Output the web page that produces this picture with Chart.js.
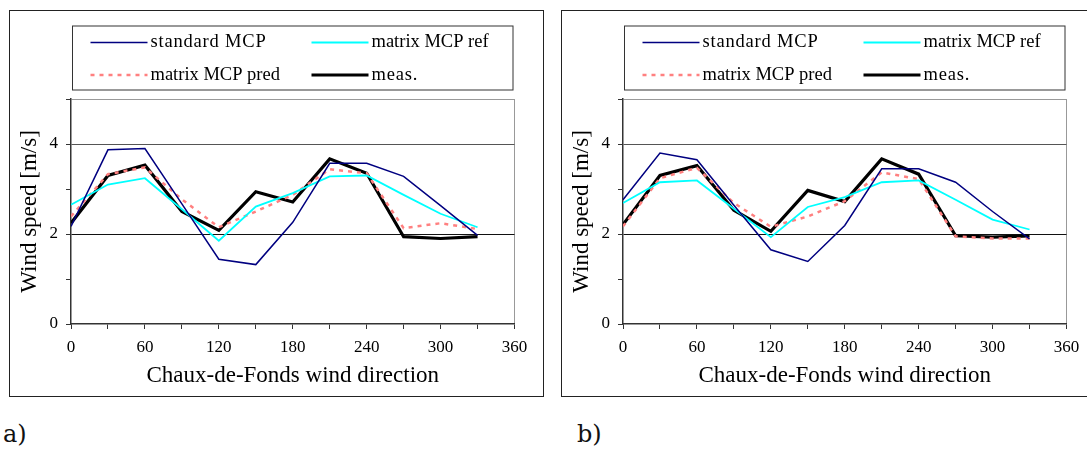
<!DOCTYPE html>
<html>
<head>
<meta charset="utf-8">
<script src="https://cdn.jsdelivr.net/npm/chart.js@4/dist/chart.umd.min.js"></script>
<style>
  html, body { margin: 0; padding: 0; background: #fff; overflow: hidden; }
  body { width: 1087px; height: 454px; position: relative; }
  .panel { position: absolute; top: 10px; width: 533px; height: 385px; border: 1px solid #222; }
  .panel canvas { display: block; }
  .tag { position: absolute; top: 420px; font-family: "DejaVu Serif", serif; font-size: 24px; color: #111; }
</style>
</head>
<body>
<div class="panel" style="left:9px"><canvas id="chartA" width="533" height="385"></canvas></div>
<div class="panel" style="left:561px"><canvas id="chartB" width="533" height="385"></canvas></div>
<div class="tag" style="left:3px">a)</div>
<div class="tag" style="left:577px">b)</div>
<script>
// wind direction sectors (deg)
const directions = [0, 30, 60, 90, 120, 150, 180, 210, 240, 270, 300, 330];
const xTickLabels = [0, 60, 120, 180, 240, 300, 360];
const yTickLabels = [0, 2, 4];

// panel a)
const standardA = [2.17, 3.87, 3.90, 2.67, 1.44, 1.32, 2.26, 3.57, 3.57, 3.28, 2.63, 1.97];
const refA      = [2.65, 3.10, 3.24, 2.55, 1.85, 2.61, 2.91, 3.28, 3.30, 2.87, 2.45, 2.15];
const predA     = [2.39, 3.33, 3.48, 2.77, 2.15, 2.50, 2.87, 3.44, 3.35, 2.13, 2.24, 2.11];
const measA     = [2.24, 3.30, 3.53, 2.50, 2.08, 2.94, 2.71, 3.67, 3.35, 1.94, 1.90, 1.94];

// panel b)
const standardB = [2.76, 3.80, 3.65, 2.64, 1.65, 1.39, 2.19, 3.45, 3.45, 3.15, 2.50, 1.89];
const refB      = [2.69, 3.15, 3.19, 2.56, 1.93, 2.60, 2.82, 3.15, 3.19, 2.76, 2.32, 2.10];
const predB     = [2.17, 3.24, 3.47, 2.69, 2.16, 2.39, 2.73, 3.37, 3.22, 1.95, 1.90, 1.90];
const measB     = [2.21, 3.30, 3.52, 2.53, 2.06, 2.97, 2.72, 3.67, 3.33, 1.96, 1.93, 1.96];

const serif = "'Liberation Serif', 'Times New Roman', serif";

// boxed two-column legend above the plot
const boxLegend = {
    id: 'boxLegend',
    afterDraw(chart) {
        const ctx = chart.ctx;
        const area = chart.chartArea;
        const left = area.left + 1.5, right = area.right - 1.5;
        const top = 15, bottom = 79;
        ctx.save();
        ctx.strokeStyle = '#333';
        ctx.lineWidth = 1;
        ctx.strokeRect(left, top, right - left, bottom - top);
        ctx.font = '18.5px ' + serif;
        ctx.fillStyle = '#000';
        ctx.textBaseline = 'middle';
        const cols = [left + 18, left + 239];
        const rows = [31.5, 64];
        chart.data.datasets.forEach(function (ds, i) {
            const x = cols[i % 2], y = rows[Math.floor(i / 2)];
            ctx.beginPath();
            ctx.strokeStyle = ds.borderColor;
            ctx.lineWidth = ds.borderWidth;
            ctx.setLineDash(ds.borderDash || []);
            ctx.moveTo(x, y);
            ctx.lineTo(x + 57, y);
            ctx.stroke();
            ctx.setLineDash([]);
            ctx.letterSpacing = ds.legendSpacing || '0px';
            ctx.fillText(ds.label, x + 60, y);
            ctx.letterSpacing = '0px';
        });
        ctx.restore();
    }
};

function makeChart(id, standard, ref, pred, meas) {
    new Chart(document.getElementById(id).getContext('2d'), {
        type: 'line',
        data: {
            datasets: [
                { label: 'standard MCP', data: directions.map((d, i) => ({ x: d, y: standard[i] })),
                  borderColor: '#000080', borderWidth: 1.5, legendSpacing: '0.8px' },
                { label: 'matrix MCP ref', data: directions.map((d, i) => ({ x: d, y: ref[i] })),
                  borderColor: '#00FFFF', borderWidth: 1.8 },
                { label: 'matrix MCP pred', data: directions.map((d, i) => ({ x: d, y: pred[i] })),
                  borderColor: '#FF8080', borderWidth: 2.5, borderDash: [4, 5] },
                { label: 'meas.', data: directions.map((d, i) => ({ x: d, y: meas[i] })),
                  borderColor: '#000000', borderWidth: 3.2, legendSpacing: '0.8px' }
            ]
        },
        options: {
            responsive: false,
            animation: false,
            layout: { padding: { top: 88, right: 28.5, left: 0, bottom: 0 } },
            elements: { point: { radius: 0 }, line: { tension: 0 } },
            plugins: { legend: { display: false }, tooltip: { enabled: false } },
            scales: {
                x: {
                    type: 'linear', min: 0, max: 360,
                    afterFit: s => { s.height = 72; },
                    ticks: {
                        stepSize: 30, autoSkip: false, maxRotation: 0, padding: 8,
                        color: '#000', font: { family: serif, size: 17 },
                        callback: v => xTickLabels.includes(v) ? v : ''
                    },
                    grid: {
                        color: c => c.tick && c.tick.value === 360 ? '#999' : 'rgba(0,0,0,0)',
                        tickColor: '#333', tickLength: 5
                    },
                    border: { color: '#333', width: 1.5 },
                    title: {
                        display: true, text: 'Chaux-de-Fonds wind direction', color: '#000',
                        font: { family: serif, size: 23 }, padding: { top: 0, bottom: 6 }
                    }
                },
                y: {
                    min: 0, max: 5,
                    afterFit: s => { s.width = 61; },
                    ticks: {
                        stepSize: 1, padding: 8, color: '#000', font: { family: serif, size: 17 },
                        callback: v => yTickLabels.includes(v) ? v : ''
                    },
                    grid: {
                        color: c => {
                            const v = c.tick ? c.tick.value : null;
                            if (v === 2) return '#111';
                            if (v === 4) return '#555';
                            if (v === 5) return '#999';
                            return 'rgba(0,0,0,0)';
                        },
                        tickColor: '#333', tickLength: 5
                    },
                    border: { color: '#333', width: 1.5 },
                    title: {
                        display: true, text: 'Wind speed [m/s]', color: '#000',
                        font: { family: serif, size: 23 }, padding: { top: 6, bottom: 0 }
                    }
                }
            }
        },
        plugins: [boxLegend]
    });
}

makeChart('chartA', standardA, refA, predA, measA);
makeChart('chartB', standardB, refB, predB, measB);
</script>
</body>
</html>
